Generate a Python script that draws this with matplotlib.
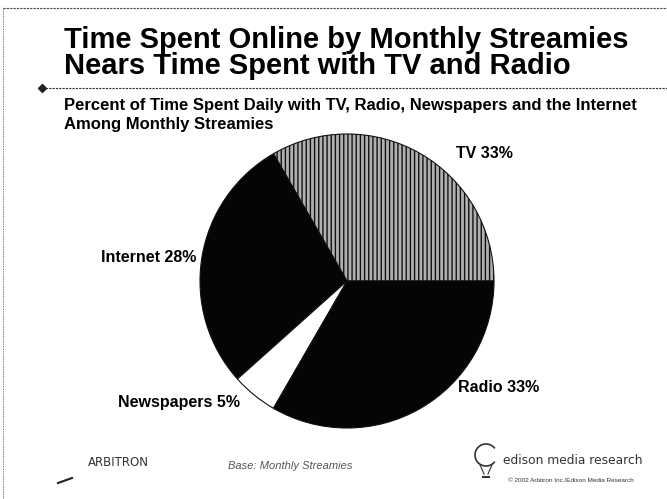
import matplotlib.pyplot as plt
from matplotlib.lines import Line2D
from matplotlib.patches import Arc

plt.rcParams['font.family'] = ['Liberation Sans', 'DejaVu Sans']

# Data
segments = ["TV", "Internet", "Newspapers", "Radio"]
shares = [33, 28, 5, 33]
labels = ["TV 33%", "Internet 28%", "Newspapers 5%", "Radio 33%"]
colors = ["#b0b0b0", "#050505", "#ffffff", "#050505"]
hatches = ["||||", "", "", ""]

title_lines = ["Time Spent Online by Monthly Streamies",
               "Nears Time Spent with TV and Radio"]
subtitle_lines = ["Percent of Time Spent Daily with TV, Radio, Newspapers and the Internet",
                  "Among Monthly Streamies"]

W, H = 667, 499
fig = plt.figure(figsize=(W / 100, H / 100), dpi=100)
fig.patch.set_facecolor("white")

def fx(x):
    return x / W

def fy(y):
    return 1 - y / H

# slide frame (top and left border)
fig.add_artist(Line2D([fx(3), fx(667)], [fy(8), fy(8)], color="#444444",
                      lw=0.8, linestyle=(0, (2, 1))))
fig.add_artist(Line2D([fx(3), fx(3)], [fy(8), fy(499)], color="#777777",
                      lw=0.6, linestyle=(0, (2, 1))))

# title, two lines
fig.text(fx(64), fy(48), title_lines[0], fontsize=21, fontweight="bold",
         va="baseline", ha="left")
fig.text(fx(64), fy(74), title_lines[1], fontsize=21, fontweight="bold",
         va="baseline", ha="left")

# separator line with diamond
fig.add_artist(Line2D([fx(42), fx(667)], [fy(88), fy(88)], color="#333333",
                      lw=0.8, linestyle=(0, (2, 1))))
fig.add_artist(Line2D([fx(42)], [fy(88)], marker="D", markersize=4,
                      color="#222222"))

# subtitle
fig.text(fx(64), fy(110), subtitle_lines[0], fontsize=12, fontweight="bold",
         va="baseline", ha="left")
fig.text(fx(64), fy(129), subtitle_lines[1], fontsize=12, fontweight="bold",
         va="baseline", ha="left")

# pie
cx, cy, r = 347, 281, 147
ax = fig.add_axes([fx(cx - r), fy(cy + r), 2 * r / W, 2 * r / H])
wedges, _ = ax.pie(shares, colors=colors, startangle=0, counterclock=True,
                   wedgeprops=dict(linewidth=0.8, edgecolor="#111111"))
for w, h in zip(wedges, hatches):
    if h:
        w.set_hatch(h)
ax.set_xlim(-1, 1)
ax.set_ylim(-1, 1)
ax.set_aspect("equal")
ax.axis("off")

# slice labels
label_pos = [(456, 153, "left"), (196, 257, "right"),
             (240, 402, "right"), (458, 388, "left")]
for text, (x, y, ha) in zip(labels, label_pos):
    fig.text(fx(x), fy(y), text, fontsize=11.5, fontweight="bold",
             ha=ha, va="center")

# footer
fig.text(fx(88), fy(462), "ARBITRON", fontsize=8.5, color="#333333",
         ha="left", va="center", family="DejaVu Sans")
fig.add_artist(Line2D([fx(58), fx(72)], [fy(483), fy(478)], color="#222222",
                      lw=1.5))
fig.text(fx(290), fy(466), "Base: Monthly Streamies", fontsize=8,
         style="italic", color="#555555", ha="center", va="center")
fig.text(fx(503), fy(461), "edison media research", fontsize=8.8,
         color="#333333", ha="left", va="center", family="DejaVu Sans")
fig.text(fx(508), fy(481), "© 2002 Arbitron Inc./Edison Media Research",
         fontsize=4.6, color="#333333", ha="left", va="center")
# bulb-shaped logo
fig.add_artist(Arc((fx(486), fy(455)), 22 / W, 22 / H, theta1=45, theta2=315,
                   transform=fig.transFigure, lw=1.2, color="#333333"))
fig.add_artist(Line2D([fx(480), fx(484)], [fy(465), fy(474)], color="#333333",
                      lw=0.8))
fig.add_artist(Line2D([fx(492), fx(488)], [fy(465), fy(474)], color="#333333",
                      lw=0.8))
fig.add_artist(Line2D([fx(483), fx(489)], [fy(477), fy(477)], color="#333333",
                      lw=1.5))

fig.savefig("out.png", dpi=100)
